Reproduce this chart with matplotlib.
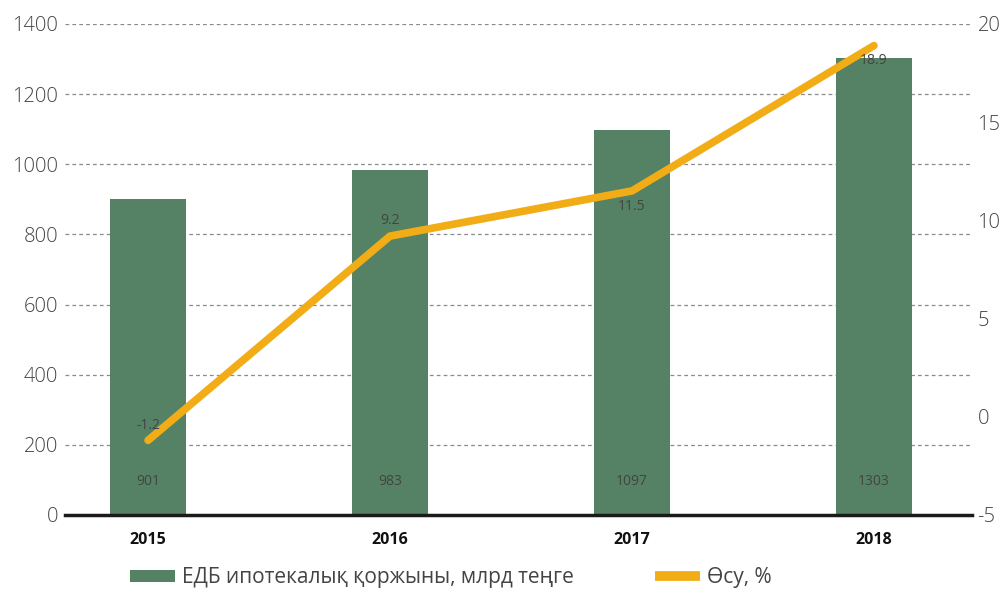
import numpy as np
import matplotlib.pyplot as plt
from matplotlib.patches import Patch
from matplotlib.lines import Line2D

plt.rcParams['font.family'] = ['Open Sans', 'DejaVu Sans']
plt.rcParams['axes.unicode_minus'] = False

years = ['2015', '2016', '2017', '2018']
portfolio = [901, 983, 1097, 1303]
growth = [-1.2, 9.2, 11.5, 18.9]

bar_color = '#558264'
line_color = '#F2AC16'
text_color = '#444444'

fig = plt.figure(figsize=(10.01, 5.95), dpi=100)
ax = fig.add_axes([0.065, 0.1345, 0.906, 0.8252])
ax2 = ax.twinx()

x = np.arange(len(years))
ax.bar(x, portfolio, width=0.314, color=bar_color, zorder=2)
ax.set_ylim(0, 1400)
ax.set_yticks(np.arange(0, 1401, 200))
ax.set_xlim(-0.343, 3.405)
ax.yaxis.grid(True, linestyle=(0, (3, 2.5)), color='#8a8a8a', linewidth=0.9, zorder=0)
ax.set_axisbelow(True)
ax.set_xticks(x)
ax.set_xticklabels(years, fontsize=11.5, fontweight='bold', color='#111111')
ax.tick_params(axis='x', length=0, pad=12)
ax.tick_params(axis='y', length=0, pad=5, labelsize=14.5, labelcolor=text_color)
for lbl in ax.get_yticklabels():
    lbl.set_fontweight('light')

for s in ['top', 'left', 'right']:
    ax.spines[s].set_visible(False)
    ax2.spines[s].set_visible(False)
ax.spines['bottom'].set_linewidth(2.5)
ax.spines['bottom'].set_color('#1a1a1a')
ax.spines['bottom'].set_zorder(5)
ax2.spines['bottom'].set_visible(False)

for xi, v in zip(x, portfolio):
    ax.annotate(str(v), (xi, 0), xytext=(0, 24), textcoords='offset points',
                ha='center', va='center', fontsize=10, color=text_color)

ax2.plot(x, growth, color=line_color, linewidth=5.5, solid_capstyle='round', zorder=3)
ax2.set_ylim(-5, 20)
ax2.set_yticks([-5, 0, 5, 10, 15, 20])
ax2.tick_params(axis='y', length=0, pad=4, labelsize=14.5, labelcolor=text_color)
for lbl in ax2.get_yticklabels():
    lbl.set_fontweight('light')

offsets = [11, 11, -11, -11]
for xi, g, off in zip(x, growth, offsets):
    ax2.annotate(str(g), (xi, g), xytext=(0, off), textcoords='offset points',
                 ha='center', va='center', fontsize=10, color=text_color)

handles = [Patch(facecolor=bar_color, edgecolor='none'),
           Line2D([0], [0], color=line_color, linewidth=7, solid_capstyle='butt')]
labels = ['ЕДБ ипотекалық қоржыны, млрд теңге', 'Өсу, %']
fig.legend(handles, labels, loc='lower left', bbox_to_anchor=(0.111, -0.02),
           ncol=2, frameon=False, fontsize=15, handlelength=2.15, handleheight=0.5,
           handletextpad=0.35, columnspacing=3.9, labelcolor=text_color)

fig.savefig('out.png', dpi=100)
